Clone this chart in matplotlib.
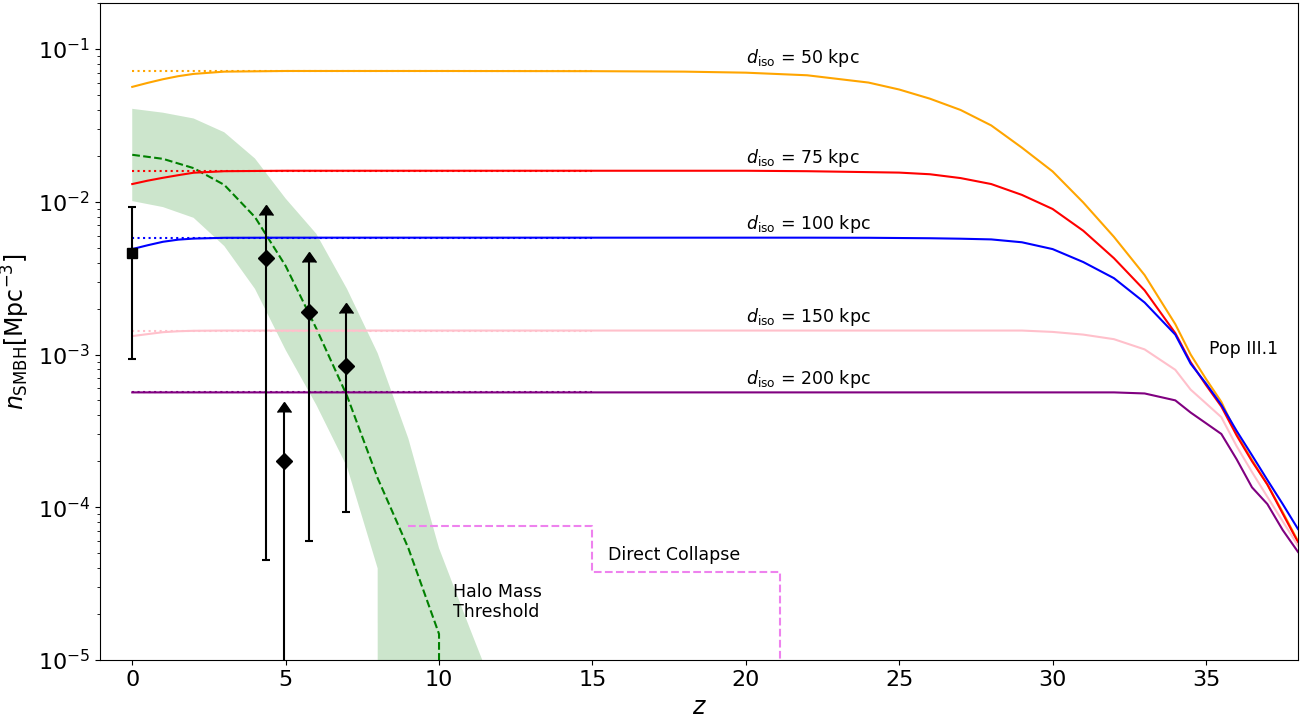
import matplotlib

matplotlib.use("Agg")

import matplotlib.pyplot as plt
import numpy as np
from matplotlib.markers import CARETUPBASE

# redshift grid of the Pop III.1 curves
z_grid = [0, 0.5, 1, 1.5, 2, 3, 5, 10, 15, 18, 20, 22, 24, 25, 26, 27, 28, 29, 30,
          31, 32, 33, 34, 34.5, 35, 35.5, 36, 36.5, 37, 37.5, 38]

n_50 = [0.0565, 0.0600, 0.0634, 0.0664, 0.0687, 0.0711, 0.0718, 0.0718, 0.0716, 0.0711,
        0.0700, 0.0673, 0.0603, 0.0543, 0.0473, 0.0399, 0.0316, 0.0226, 0.0158, 0.00989,
        0.00589, 0.00331, 0.00158, 0.00100, 0.000692, 0.000490, 0.000302, 0.000204,
        0.000141, 9.3e-5, 6.0e-5]
n_75 = [0.01306, 0.01374, 0.01435, 0.01493, 0.01549, 0.01585, 0.01596, 0.01596, 0.01596,
        0.01596, 0.01596, 0.01585, 0.01563, 0.01552, 0.01514, 0.01429, 0.01306, 0.01109,
        0.00897, 0.00646, 0.00427, 0.00263, 0.00138, 0.000891, 0.000631, 0.000457,
        0.000295, 0.000200, 0.000141, 9.1e-5, 5.9e-5]
n_100 = [0.00490, 0.00519, 0.00547, 0.00565, 0.00574, 0.00581, 0.00582, 0.00582, 0.00582,
         0.00582, 0.00582, 0.00582, 0.00581, 0.00579, 0.00577, 0.00573, 0.00567, 0.00543,
         0.00490, 0.00403, 0.00316, 0.00219, 0.00135, 0.000871, 0.000646, 0.000468,
         0.000316, 0.000219, 0.000151, 0.000105, 7.2e-5]
n_150 = [0.00132, 0.00136, 0.00140, 0.00142, 0.00143, 0.001435, 0.001435, 0.001435,
         0.001435, 0.001435, 0.001435, 0.001435, 0.001435, 0.001435, 0.001435, 0.001435,
         0.001435, 0.001435, 0.001406, 0.00135, 0.00126, 0.00108, 0.000794, 0.000589,
         0.000479, 0.000389, 0.000251, 0.000170, 0.000117, 8.1e-5, 5.6e-5]
n_200 = [0.000565, 0.000565, 0.000565, 0.000565, 0.000565, 0.000565, 0.000565, 0.000565,
         0.000565, 0.000565, 0.000565, 0.000565, 0.000565, 0.000565, 0.000565, 0.000565,
         0.000565, 0.000565, 0.000565, 0.000565, 0.000565, 0.000556, 0.000501, 0.000417,
         0.000355, 0.000302, 0.000206, 0.000135, 0.000105, 7.1e-5, 5.1e-5]

d_iso_labels = ["50", "75", "100", "150", "200"]
curve_colors = ["orange", "red", "blue", "pink", "purple"]
# plateau (low-z limit) levels, drawn dotted
n_plateau = [0.0718, 0.01596, 0.00582, 0.001435, 0.000565]
z_plateau = [0, 15]

# halo mass threshold model
z_halo = [0, 1, 2, 3, 4, 5, 6, 7, 8, 9, 10, 11, 12]
n_halo = [0.0203, 0.0191, 0.0166, 0.0129, 0.00794, 0.0038, 0.00148, 0.000537,
          0.000155, 5.4e-5, 1.48e-5, 0, 0]
n_halo_hi = [0.0406, 0.0383, 0.0351, 0.0285, 0.0192, 0.0105, 0.00617, 0.00269,
             0.00102, 0.000282, 5.4e-5, 1.62e-5, 5.0e-6]
n_halo_lo = [0.0101, 0.00923, 0.00785, 0.00513, 0.00269, 0.00107, 0.000468,
             0.000184, 3.98e-5, 0, 0, 0, 0]

# direct collapse
z_dc = [9, 15, 21.1]
n_dc = [7.5e-5, 3.75e-5, 0]

# local SMBH density
z_local = [0]
n_local = [0.00462]
n_local_lo = [0.00093]
n_local_hi = [0.0093]

# high-z AGN lower limits
z_agn = [4.37, 4.94, 5.77, 6.96]
n_agn = [0.0043, 2.0e-4, 0.00189, 0.000847]
n_agn_lo = [4.5e-5, 1e-7, 6.0e-5, 9.3e-5]
n_agn_hi = [0.0082, 4.2e-4, 0.00405, 0.00188]


fig = plt.figure(figsize=(13.11, 7.2), dpi=100)
ax = fig.add_axes([0.0763, 0.0833, 0.9138, 0.9125])
ax.set_yscale("log")

ax.fill_between(z_halo, n_halo_lo, n_halo_hi, color="green", alpha=0.2, linewidth=0)
ax.plot(z_halo, n_halo, color="green", linestyle="--", linewidth=1.5)

ax.step(z_dc, n_dc, where="post", color="violet", linestyle="--", linewidth=1.5)

for n_curve, level, label, color in zip(
    [n_50, n_75, n_100, n_150, n_200], n_plateau, d_iso_labels, curve_colors
):
    ax.plot(z_plateau, [level, level], color=color, linestyle=":", linewidth=1.5)
    ax.plot(z_grid, n_curve, color=color, linewidth=1.5)
    ax.text(20, level * 1.22, r"$d_{\rm iso}$ = " + f"{label} kpc",
            fontsize=12.5, ha="left", va="center")

# local density with error bar
ax.errorbar(z_local, n_local,
            yerr=[np.subtract(n_local, n_local_lo), np.subtract(n_local_hi, n_local)],
            fmt="s", color="black", markersize=7, capsize=3, elinewidth=1.5, capthick=1.5)

# lower limits: bar from the low end with an arrow on top
ax.vlines(z_agn, n_agn_lo, n_agn_hi, color="black", linewidth=1.5)
ax.plot(z_agn, n_agn_lo, linestyle="none", marker="_", color="black",
        markersize=6, markeredgewidth=1.5)
ax.plot(z_agn, n_agn_hi, linestyle="none", marker=CARETUPBASE, color="black",
        markersize=10)
ax.plot(z_agn, n_agn, linestyle="none", marker="D", color="black", markersize=8)

ax.text(35.1, 1.08e-3, "Pop III.1", fontsize=12.5, ha="left", va="center")
ax.text(15.5, 4.9e-5, "Direct Collapse", fontsize=12.5, ha="left", va="center")
ax.text(10.45, 2.4e-5, "Halo Mass\nThreshold", fontsize=12.5, ha="left", va="center")

ax.set_xlim(-1.05, 38)
ax.set_ylim(1e-5, 0.2)
ax.set_xlabel(r"$z$", fontsize=17)
ax.set_ylabel(r"$n_{\rm SMBH} [{\rm Mpc}^{-3}]$", fontsize=17)
ax.tick_params(axis="both", which="major", labelsize=16)

fig.savefig("out.png", dpi=100)
plt.close(fig)
